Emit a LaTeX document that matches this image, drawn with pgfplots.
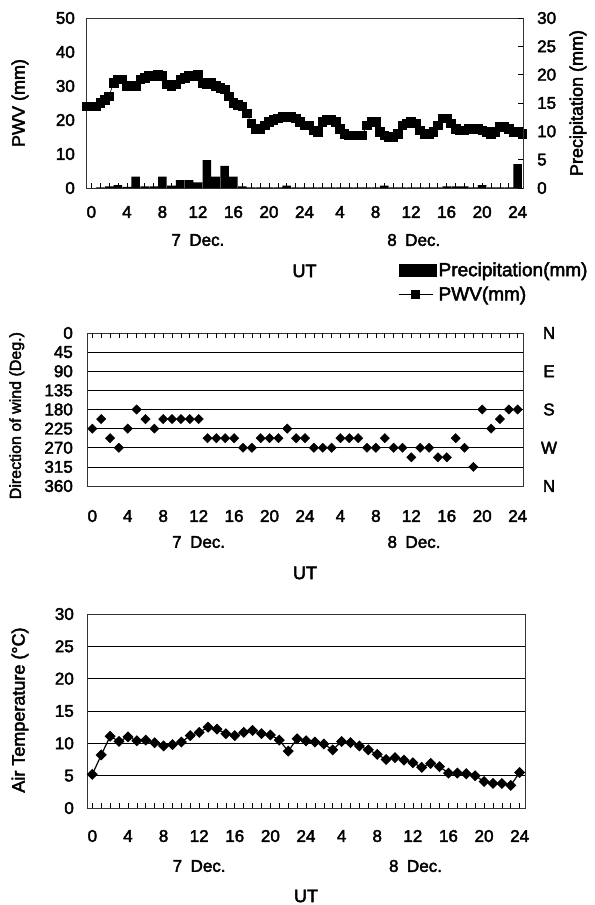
\documentclass[border=0pt]{standalone}
\usepackage{fontspec}
\setmainfont{Liberation Sans}[FakeBold=2.5]
\usepackage{pgfplots}
\pgfplotsset{compat=1.18}

\newcommand\tickfont{\fontsize{17bp}{20bp}\selectfont}
\newcommand\labfont{\fontsize{18bp}{21bp}\selectfont}
\newcommand\legfont{\fontsize{19bp}{22bp}\selectfont}

% common hourly time axis, 0-48 h UT over two days
\pgfplotsset{
  timeaxis/.style={
    scale only axis,
    xmin=-0.6, xmax=48.6,
    xtick={0,4,...,48},
    xticklabels={0,4,8,12,16,20,24,4,8,12,16,20,24},
    minor xtick={0,...,48},
    tick align=inside,
    major tick length=5bp,
    minor tick length=5bp,
    tick style={black, line width=0.6pt},
    axis line style={black!80, line width=0.7pt},
    ticklabel style={font=\tickfont, inner sep=0pt},
    /pgf/number format/assume math mode=true,
    label style={font=\labfont},
    grid style={black, line width=0.6pt},
  },
  % day names under the hour labels
  days/.style={extra description/.code={
      \node[font=\tickfont, yshift=-#1] at (axis description cs:0.256,0) {7\enspace Dec.};
      \node[font=\tickfont, yshift=-#1] at (axis description cs:0.75,0) {8\enspace Dec.};}},
  pwvlegend/.style={legend image code/.code={
      \draw[black, line width=0.8pt] (0bp,0bp) -- (34bp,0bp);
      \fill[black] (13bp,-4bp) rectangle (21bp,4bp);}},
}

\begin{document}
\begin{tikzpicture}
\useasboundingbox (0bp,0bp) rectangle (595bp,-905bp);

% ---------------- PWV and precipitation ----------------
\begin{axis}[timeaxis, days=52bp,
  at={(86bp,-188bp)}, anchor=south west, width=437bp, height=170bp,
  ymin=0, ymax=50, ytick={0,10,...,50},
  xtick pos=lower, ytick pos=left,
  ytick style={draw=none},
  xticklabel style={anchor=center, yshift=-24bp},
  yticklabel style={anchor=east, xshift=-11bp},
  ylabel={PWV (mm)},
  ylabel style={at={(axis description cs:-0.151,0.5)}, anchor=center},
  xlabel={UT},
  xlabel style={at={(axis description cs:0.5,0)}, anchor=center, yshift=-83bp},
]
\addplot[black, line width=0.6pt, mark=square*, mark size=4.3bp] table {
x y
-0.5 24
0.0 24
0.5 24
1.0 25
1.5 26
2.0 27
2.5 31
3.0 32
3.5 32
4.0 30
4.5 30
5.0 30
5.5 32
6.0 32.5
6.5 33
7.0 33
7.5 33.5
8.0 33
8.5 30.5
9.0 30
9.5 30.5
10.0 32
10.5 32.5
11.0 33
11.5 33
12.0 33.5
12.5 31
13.0 30.5
13.5 31
14.0 30
14.5 29.5
15.0 29
15.5 27
16.0 25
16.5 24.5
17.0 24
17.5 22
18.0 19
18.5 17.5
19.0 17.5
19.5 18.5
20.0 19.5
20.5 20
21.0 20.5
21.5 21
22.0 21
22.5 21
23.0 20.5
23.5 19.5
24.0 18.5
24.5 18.5
25.0 17
25.5 16.5
26.0 19.5
26.5 20
27.0 20
27.5 19.5
28.0 17.5
28.5 16
29.0 15.5
29.5 15.5
30.0 15.5
30.5 15.5
31.0 18.5
31.5 19.5
32.0 19.5
32.5 16.5
33.0 15.5
33.5 15
34.0 15
34.5 16
35.0 18.5
35.5 19
36.0 19.5
36.5 19
37.0 17
37.5 16
38.0 16
38.5 16.5
39.0 18.5
39.5 20.5
40.0 20.5
40.5 19
41.0 17.5
41.5 17
42.0 17
42.5 17.5
43.0 17.5
43.5 17.5
44.0 17
44.5 16.5
45.0 16
45.5 16.5
46.0 18
46.5 18
47.0 17.5
47.5 16.5
48.0 16.5
48.5 16
};
\end{axis}

\begin{axis}[timeaxis,
  at={(86bp,-188bp)}, anchor=south west, width=437bp, height=170bp,
  axis x line=none, axis y line*=right,
  ymin=0, ymax=30, ytick={0,5,...,30},
  yticklabel style={anchor=west, xshift=14bp},
  ylabel={Precipitation (mm)},
  ylabel style={at={(axis description cs:1.126,0.5)}, anchor=center, rotate=0},
  legend style={at={(axis description cs:0.714,-0.425)}, anchor=north west,
    draw=none, fill=none, font=\legfont, row sep=5bp,
    inner sep=0pt, cells={anchor=west}},
]
\addplot[fill=black, draw=none, ybar, bar width=8.5bp, bar shift=0pt,
  legend image code/.code={\fill[black] (0bp,-6.5bp) rectangle (38bp,6.5bp);}]
  coordinates {
  (0,0) (1,0.1) (2,0.3) (3,0.5) (4,0.2) (5,2.0) (6,0.3) (7,0.3) (8,2.0)
  (9,0.4) (10,1.4) (11,1.4) (12,1.0) (13,4.9) (14,2.0) (15,3.9) (16,2.0)
  (17,0.3) (18,0.1) (19,0.1) (20,0.1) (21,0.1) (22,0.4) (23,0.1) (24,0.1)
  (25,0.1) (26,0.1) (27,0.1) (28,0.1) (29,0.1) (30,0.1) (31,0.1) (32,0.1)
  (33,0.4) (34,0.1) (35,0.1) (36,0.1) (37,0.1) (38,0.1) (39,0.1) (40,0.3)
  (41,0.3) (42,0.3) (43,0.1) (44,0.5) (45,0.1) (46,0.1) (47,0.1) (48,4.2)
};
\addlegendentry{Precipitation(mm)}
\addlegendimage{pwvlegend}
\addlegendentry{PWV(mm)}
\end{axis}

% ---------------- wind direction ----------------
\begin{axis}[timeaxis, days=56bp,
  at={(87bp,-486bp)}, anchor=south west, width=436bp, height=153bp,
  ymin=0, ymax=360, y dir=reverse, ytick={0,45,...,360},
  ymajorgrids,
  xtick pos=lower, xticklabel pos=lower, ytick pos=left,
  xtick style={draw=none}, ytick style={draw=none},
  xticklabel style={anchor=center, yshift=-30bp},
  yticklabel style={anchor=east, xshift=-14bp},
  ylabel={Direction of wind (Deg.)},
  ylabel style={at={(axis description cs:-0.161,0.46)}, anchor=center,
    font=\fontsize{16bp}{19bp}\selectfont},
  xlabel={UT},
  xlabel style={at={(axis description cs:0.5,0)}, anchor=center, yshift=-87bp},
]
\addplot[only marks, mark=square*, mark options={rotate=45, black}, mark size=3.3bp]
  table {
h deg
0 225
1 202.5
2 247.5
3 270
4 225
5 180
6 202.5
7 225
8 202.5
9 202.5
10 202.5
11 202.5
12 202.5
13 247.5
14 247.5
15 247.5
16 247.5
17 270
18 270
19 247.5
20 247.5
21 247.5
22 225
23 247.5
24 247.5
25 270
26 270
27 270
28 247.5
29 247.5
30 247.5
31 270
32 270
33 247.5
34 270
35 270
36 292.5
37 270
38 270
39 292.5
40 292.5
41 247.5
42 270
43 315
44 180
45 225
46 202.5
47 180
48 180
};
\end{axis}

% hour ticks hanging from the top edge of the wind panel
\begin{axis}[timeaxis,
  at={(87bp,-486bp)}, anchor=south west, width=436bp, height=153bp,
  ymin=0, ymax=1, clip=false,
  xtick pos=upper, xticklabels={},
  ytick=\empty, axis line style={draw=none},
]
\addplot[draw=none] coordinates {(0,0) (48,1)};
\pgfplotsinvokeforeach{0,...,48}{
  \draw[black, line width=0.6pt] (axis cs:#1,1) -- ([yshift=-5bp]axis cs:#1,1);
}
\end{axis}

% compass points on the right of the wind panel
\begin{axis}[timeaxis,
  at={(87bp,-486bp)}, anchor=south west, width=436bp, height=153bp,
  ymin=0, ymax=360, y dir=reverse,
  axis x line=none, axis y line*=right,
  ytick={0,90,180,270,360}, yticklabels={N,E,S,W,N},
  major tick length=0pt,
  yticklabel style={anchor=center, xshift=26bp},
]
\addplot[draw=none] coordinates {(0,0) (48,360)};
\end{axis}

% ---------------- air temperature ----------------
\begin{axis}[timeaxis, days=58bp,
  at={(87bp,-808bp)}, anchor=south west, width=438bp, height=194bp,
  ymin=0, ymax=30, ytick={0,5,...,30},
  ymajorgrids,
  xtick pos=lower, ytick pos=left,
  ytick style={draw=none},
  xticklabel style={anchor=center, yshift=-28bp},
  yticklabel style={anchor=east, xshift=-13bp},
  ylabel={Air Temperature (°C)},
  ylabel style={at={(axis description cs:-0.153,0.505)}, anchor=center},
  xlabel={UT},
  xlabel style={at={(axis description cs:0.5,0)}, anchor=center, yshift=-88bp},
]
\addplot[black, line width=1.2pt, mark=square*, mark options={rotate=45}, mark size=3.3bp]
  table {
h t
0 5.2
1 8.2
2 11.1
3 10.3
4 11.0
5 10.4
6 10.5
7 10.1
8 9.6
9 9.8
10 10.2
11 11.2
12 11.7
13 12.5
14 12.2
15 11.5
16 11.2
17 11.7
18 12.0
19 11.5
20 11.3
21 10.5
22 8.8
23 10.7
24 10.4
25 10.2
26 9.9
27 9.0
28 10.3
29 10.1
30 9.6
31 9.0
32 8.3
33 7.5
34 7.8
35 7.4
36 7.0
37 6.3
38 6.9
39 6.4
40 5.4
41 5.4
42 5.3
43 5.0
44 4.1
45 3.8
46 3.8
47 3.5
48 5.5
};
\end{axis}
\end{tikzpicture}
\end{document}
